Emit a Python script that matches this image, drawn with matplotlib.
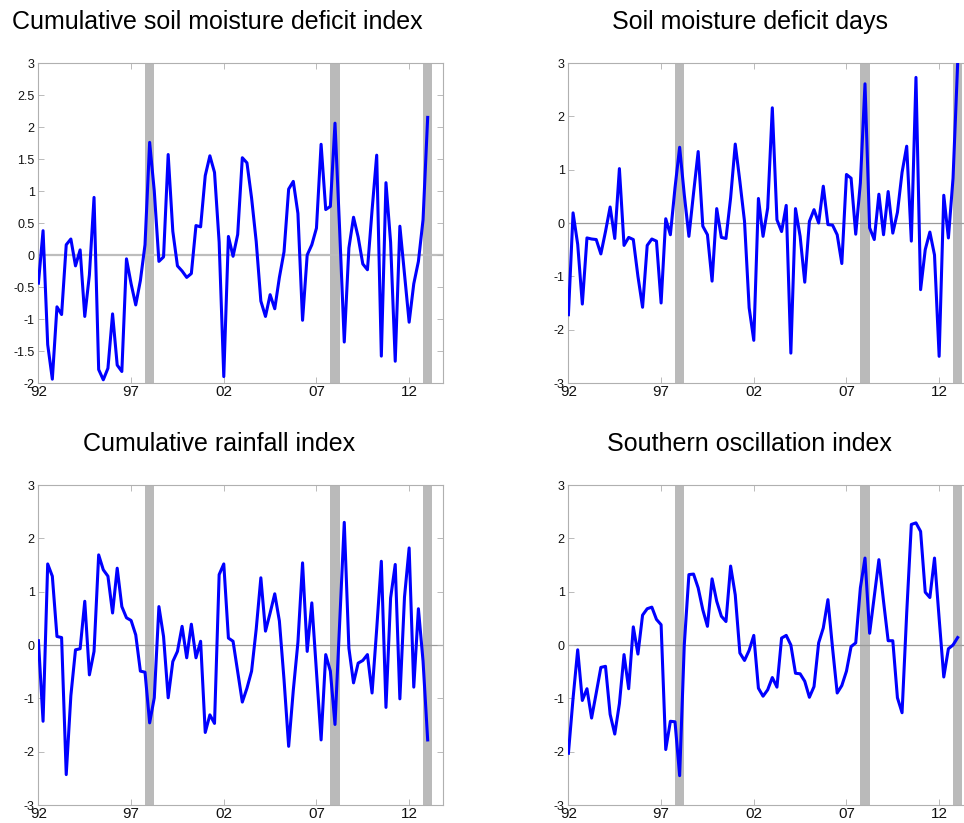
import numpy as np
import matplotlib
matplotlib.use("Agg")
import matplotlib.pyplot as plt

plt.rcParams['font.family'] = ['Liberation Sans', 'DejaVu Sans']
plt.rcParams['axes.unicode_minus'] = False

# Quarterly observations, 1992Q1 .. 2013Q1
quarters = 1992 + 0.25 * np.arange(85)

smd_index = [
    -0.44, 0.38, -1.40, -1.94, -0.81, -0.93, 0.16, 0.25, -0.17, 0.08,
    -0.96, -0.31, 0.90, -1.79, -1.95, -1.77, -0.92, -1.72, -1.82, -0.06,
    -0.45, -0.78, -0.40, 0.16, 1.76, 1.00, -0.10, -0.03, 1.57, 0.37,
    -0.17, -0.25, -0.35, -0.29, 0.46, 0.44, 1.24, 1.55, 1.29, 0.20,
    -1.90, 0.29, -0.02, 0.32, 1.52, 1.44, 0.89, 0.21, -0.72, -0.96,
    -0.62, -0.84, -0.35, 0.05, 1.03, 1.15, 0.65, -1.02, 0.00, 0.16,
    0.42, 1.73, 0.71, 0.76, 2.06, 0.40, -1.36, 0.11, 0.59, 0.28,
    -0.14, -0.23, 0.70, 1.56, -1.58, 1.13, 0.20, -1.66, 0.45, -0.30,
    -1.05, -0.45, -0.10, 0.55, 2.15,
]

smd_days = [
    -1.72, 0.19, -0.40, -1.52, -0.28, -0.30, -0.31, -0.58, -0.16, 0.30,
    -0.29, 1.02, -0.42, -0.27, -0.31, -1.00, -1.58, -0.42, -0.30, -0.34,
    -1.50, 0.08, -0.22, 0.66, 1.42, 0.53, -0.25, 0.56, 1.34, -0.06,
    -0.22, -1.09, 0.27, -0.27, -0.29, 0.47, 1.48, 0.78, 0.03, -1.59,
    -2.20, 0.46, -0.25, 0.28, 2.16, 0.06, -0.16, 0.33, -2.44, 0.27,
    -0.25, -1.11, 0.03, 0.25, 0.00, 0.69, -0.03, -0.04, -0.22, -0.76,
    0.91, 0.84, -0.21, 0.75, 2.61, -0.09, -0.31, 0.54, -0.22, 0.59,
    -0.19, 0.20, 0.95, 1.44, -0.34, 2.73, -1.25, -0.50, -0.17, -0.60,
    -2.50, 0.52, -0.28, 0.84, 3.00,
]

rain_index = [
    0.08, -1.43, 1.52, 1.29, 0.16, 0.14, -2.43, -0.95, -0.09, -0.07,
    0.82, -0.56, -0.12, 1.69, 1.41, 1.29, 0.60, 1.44, 0.72, 0.51,
    0.46, 0.19, -0.49, -0.51, -1.46, -0.99, 0.72, 0.16, -0.99, -0.31,
    -0.12, 0.35, -0.24, 0.39, -0.24, 0.07, -1.64, -1.31, -1.47, 1.32,
    1.52, 0.13, 0.07, -0.50, -1.07, -0.81, -0.49, 0.30, 1.26, 0.26,
    0.60, 0.96, 0.45, -0.65, -1.90, -0.85, 0.05, 1.54, -0.12, 0.79,
    -0.50, -1.78, -0.18, -0.49, -1.49, 0.40, 2.30, -0.06, -0.71, -0.34,
    -0.29, -0.18, -0.90, 0.30, 1.57, -1.17, 0.88, 1.51, -1.01, 0.90,
    1.82, -0.79, 0.68, -0.30, -1.78,
]

soi = [
    -2.03, -1.00, -0.09, -1.04, -0.82, -1.37, -0.90, -0.42, -0.40, -1.30,
    -1.67, -1.10, -0.18, -0.82, 0.34, -0.17, 0.56, 0.68, 0.71, 0.48,
    0.38, -1.96, -1.43, -1.44, -2.45, 0.00, 1.32, 1.33, 1.07, 0.66,
    0.35, 1.24, 0.82, 0.54, 0.44, 1.48, 0.94, -0.15, -0.29, -0.10,
    0.18, -0.81, -0.96, -0.84, -0.61, -0.79, 0.13, 0.18, 0.00, -0.53,
    -0.54, -0.68, -0.98, -0.78, 0.04, 0.32, 0.85, -0.06, -0.90, -0.76,
    -0.49, -0.03, 0.04, 1.07, 1.63, 0.22, 0.91, 1.60, 0.82, 0.08,
    0.08, -0.99, -1.27, 0.60, 2.26, 2.29, 2.13, 0.99, 0.89, 1.63,
    0.50, -0.60, -0.07, 0.00, 0.14,
]

titles = [
    "Cumulative soil moisture deficit index",
    "Soil moisture deficit days",
    "Cumulative rainfall index",
    "Southern oscillation index",
]

# Shaded episodes (centre of each half-year band)
episode_centres = [1998.0, 2008.0, 2013.0]

year_ticks = [1992, 1997, 2002, 2007, 2012]
year_labels = ["92", "97", "02", "07", "12"]

W, H = 964, 823
fig = plt.figure(figsize=(W / 100, H / 100), dpi=100)
fig.patch.set_facecolor("white")

# (left px, top px, title centre px, title baseline px, data, y ticks,
#  zero-line colour, zero-line width)
panels = [
    (37.5, 63, 217, 29, smd_index, np.arange(-2, 3.01, 0.5), "#bdbdbd", 1.6),
    (567.5, 63, 750, 29, smd_days, np.arange(-3, 3.01, 1.0), "#9a9a9a", 0.9),
    (37.5, 485, 219, 451, rain_index, np.arange(-3, 3.01, 1.0), "#9a9a9a", 0.9),
    (567.5, 485, 749, 451, soi, np.arange(-3, 3.01, 1.0), "#9a9a9a", 0.9),
]

x_lo, x_hi = 1991.95, 2013.8
ax_w, ax_h = 405, 320

frame_col = "#b0b0b0"

for (left, top, tx, ty, values, yt, zc, zw), title in zip(panels, titles):
    ax = fig.add_axes([left / W, 1 - (top + ax_h) / H, ax_w / W, ax_h / H])
    for c in episode_centres:
        ax.axvspan(c - 0.25, c + 0.25, color="#bababa", lw=0, zorder=1)
    ax.axhline(0, color=zc, lw=zw, zorder=1.5)
    ax.plot(quarters, values, color="#0000ff", lw=2.2, zorder=3,
            solid_joinstyle="round")
    ax.set_xlim(x_lo, x_hi)
    ax.set_ylim(yt[0], yt[-1])
    ax.set_xticks(year_ticks)
    ax.set_xticklabels(year_labels)
    ax.set_yticks(yt)
    ax.set_yticklabels([f"{v:g}" for v in yt])
    for s in ax.spines.values():
        s.set_color(frame_col)
        s.set_linewidth(0.8)
    ax.tick_params(direction="in", length=4, width=0.6, color=frame_col,
                   top=True, right=True, labelcolor="#111111")
    ax.tick_params(axis="y", labelsize=9, pad=2)
    ax.tick_params(axis="x", labelsize=11, pad=1.5)
    fig.text(tx / W, 1 - ty / H, title, ha="center", va="baseline",
             fontsize=18, color="black")

fig.savefig("out.png", dpi=100)
